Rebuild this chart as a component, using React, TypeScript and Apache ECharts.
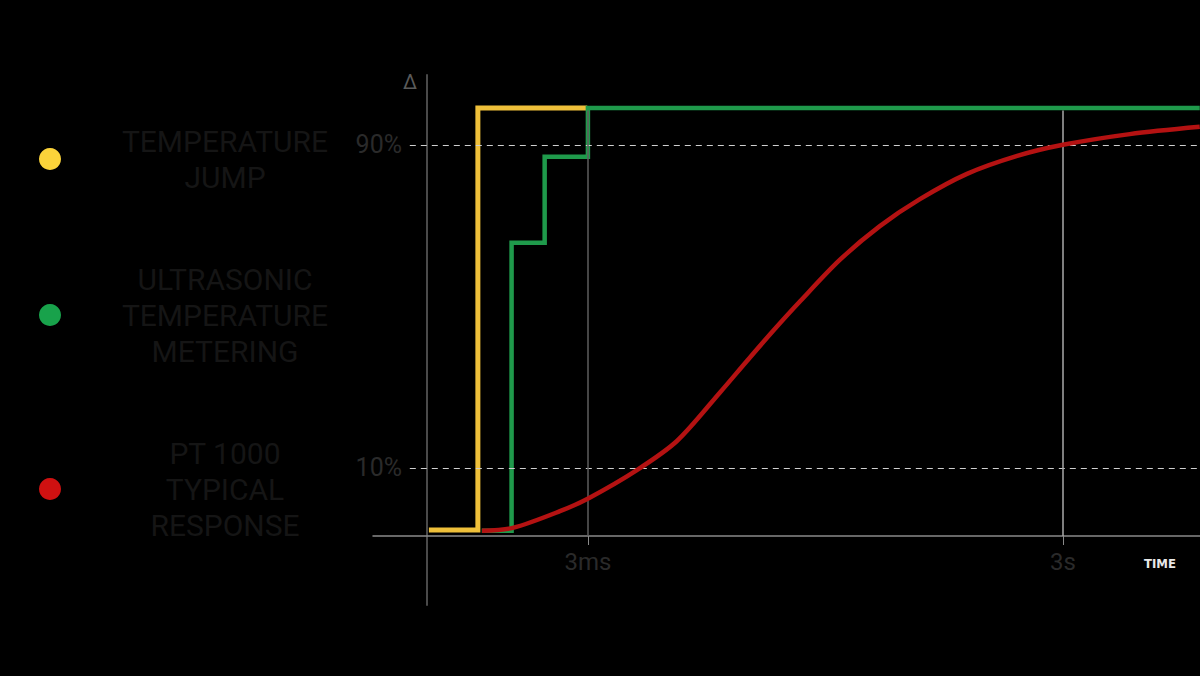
import { useEffect, useRef } from "react";
import * as echarts from "echarts";

// series names as shown in the legend
const SERIES_NAMES = [
  "TEMPERATURE JUMP",
  "ULTRASONIC TEMPERATURE METERING",
  "PT 1000 TYPICAL RESPONSE",
];
const LEGEND_LINES = [
  ["TEMPERATURE", "JUMP"],
  ["ULTRASONIC", "TEMPERATURE", "METERING"],
  ["PT 1000", "TYPICAL", "RESPONSE"],
];

// time axis (schematic units), y = signal above baseline
const TIME_TICKS = [25.3, 100];
const TIME_LABELS = ["3ms", "3s"];
const LEVEL_VALUES = [15.9, 91.4];
const LEVEL_LABELS = ["10%", "90%"];

const JUMP_X = [0.3, 8.0, 25.2];
const JUMP_Y = [1.4, 100, 100];

const ULTRA_X = [8.6, 13.3, 18.5, 25.3, 121.5];
const ULTRA_Y = [1.2, 68.5, 88.6, 100, 100];

const PT_X = [
  8.65, 13.5, 20.9, 25.5, 33.0, 39.3, 46.1, 50.3, 54.4, 58.7, 64.9, 71.2,
  77.5, 84.9, 92.8, 100, 110.5, 121.5,
];
const PT_Y = [
  1.2, 1.9, 5.8, 8.9, 15.4, 22.2, 33.6, 40.9, 47.9, 54.9, 64.5, 72.4, 78.7,
  84.6, 88.8, 91.4, 93.9, 95.6,
];

const X_MIN = -8.49;
const X_MAX = 121.54;
const Y_MIN = -16.12;
const Y_MAX = 107.71;

const LINE_COLORS = ["#efc03a", "#1f9a4b", "#b41212"];
const DOT_COLORS = ["#fbd33a", "#18a24b", "#cf1111"];

const zip = (xs: number[], ys: number[]) => xs.map((x, i) => [x, ys[i]]);

const labelFor = (values: number[], labels: string[], v: number) => {
  const i = values.findIndex((t) => Math.abs(t - v) < 0.01);
  return i >= 0 ? labels[i] : "";
};

export default function App() {
  const containerRef = useRef<HTMLDivElement | null>(null);

  useEffect(() => {
    if (!containerRef.current) return;
    const chart = echarts.init(containerRef.current, undefined, {
      renderer: "svg",
    });

    const levelLines = LEVEL_VALUES.map((v) => [
      { coord: [-2.7, v] },
      { coord: [X_MAX, v] },
    ]);
    const timeLines = TIME_TICKS.map((t) => [
      { coord: [t, 0] },
      { coord: [t, 99.4] },
    ]);

    chart.setOption({
      animation: false,
      backgroundColor: "#000",
      textStyle: { fontFamily: "Roboto" },
      grid: { left: 373, right: 0, top: 75, bottom: 71 },
      legend: {
        orient: "vertical",
        left: 39,
        top: 126,
        padding: 0,
        itemGap: 72,
        itemWidth: 22,
        itemHeight: 22,
        icon: "circle",
        selectedMode: false,
        data: SERIES_NAMES.map((name, i) => ({
          name,
          itemStyle: { color: DOT_COLORS[i] },
        })),
        formatter: (name: string) => {
          const i = SERIES_NAMES.indexOf(name);
          return LEGEND_LINES[i].map((l) => `{a|${l}}`).join("\n");
        },
        textStyle: {
          rich: {
            a: {
              width: 318,
              align: "center",
              fontSize: 30,
              lineHeight: 36,
              color: "#151515",
              fontFamily: "Roboto",
            },
          },
        },
      },
      xAxis: {
        type: "value",
        min: X_MIN,
        max: X_MAX,
        name: "TIME",
        nameLocation: "end",
        nameGap: -56,
        nameTextStyle: {
          color: "#e8e8e8",
          fontSize: 13,
          fontWeight: "bold",
          fontFamily: "DejaVu Sans Condensed",
          verticalAlign: "top",
          padding: [21, 0, 0, 0],
        },
        axisLine: { onZero: true, lineStyle: { color: "#8a8a8a", width: 1.5 } },
        axisTick: {
          customValues: TIME_TICKS,
          length: 9,
          lineStyle: { color: "#8a8a8a" },
        },
        axisLabel: {
          customValues: TIME_TICKS,
          margin: -55,
          fontSize: 24,
          color: "#2a2a2a",
          formatter: (v: number) => labelFor(TIME_TICKS, TIME_LABELS, v),
        },
        splitLine: { show: false },
      },
      yAxis: {
        type: "value",
        min: Y_MIN,
        max: Y_MAX,
        name: "Δ",
        nameLocation: "end",
        nameGap: -17,
        nameTextStyle: {
          color: "#5a5a5a",
          fontSize: 20,
          align: "right",
          padding: [0, 10, 0, 0],
        },
        axisLine: { onZero: true, lineStyle: { color: "#4a4a4a", width: 2 } },
        axisTick: { show: false },
        axisLabel: {
          customValues: LEVEL_VALUES,
          margin: -29,
          fontSize: 25,
          color: "#2a2a2a",
          formatter: (v: number) => labelFor(LEVEL_VALUES, LEVEL_LABELS, v),
        },
        splitLine: { show: false },
      },
      series: [
        {
          name: "guides",
          type: "line",
          data: [],
          silent: true,
          z: 1,
          markLine: {
            silent: true,
            symbol: ["none", "none"],
            label: { show: false },
            data: [
              ...levelLines.map((d) => [
                { ...d[0], lineStyle: { color: "#cfcfcf", type: [6, 5], width: 1 } },
                d[1],
              ]),
              [
                { ...timeLines[0][0], lineStyle: { color: "#5e5e5e", type: "solid", width: 1.5 } },
                timeLines[0][1],
              ],
              [
                { ...timeLines[1][0], lineStyle: { color: "#a8a8a8", type: "solid", width: 1.5 } },
                timeLines[1][1],
              ],
            ],
          },
        },
        {
          name: SERIES_NAMES[0],
          type: "line",
          step: "end",
          showSymbol: false,
          z: 3,
          color: LINE_COLORS[0],
          lineStyle: { width: 5, color: LINE_COLORS[0], join: "miter" },
          data: zip(JUMP_X, JUMP_Y),
        },
        {
          name: SERIES_NAMES[1],
          type: "line",
          step: "end",
          showSymbol: false,
          z: 4,
          color: LINE_COLORS[1],
          lineStyle: { width: 4.5, color: LINE_COLORS[1], join: "miter" },
          data: zip(ULTRA_X, ULTRA_Y),
        },
        {
          name: SERIES_NAMES[2],
          type: "line",
          smooth: 0.3,
          showSymbol: false,
          z: 5,
          color: LINE_COLORS[2],
          lineStyle: { width: 4.5, color: LINE_COLORS[2] },
          data: zip(PT_X, PT_Y),
        },
      ],
    });

    return () => chart.dispose();
  }, []);

  return (
    <div
      ref={containerRef}
      style={{
        position: "fixed",
        left: 0,
        top: 0,
        width: 1200,
        height: 676,
        background: "#000",
      }}
    />
  );
}
